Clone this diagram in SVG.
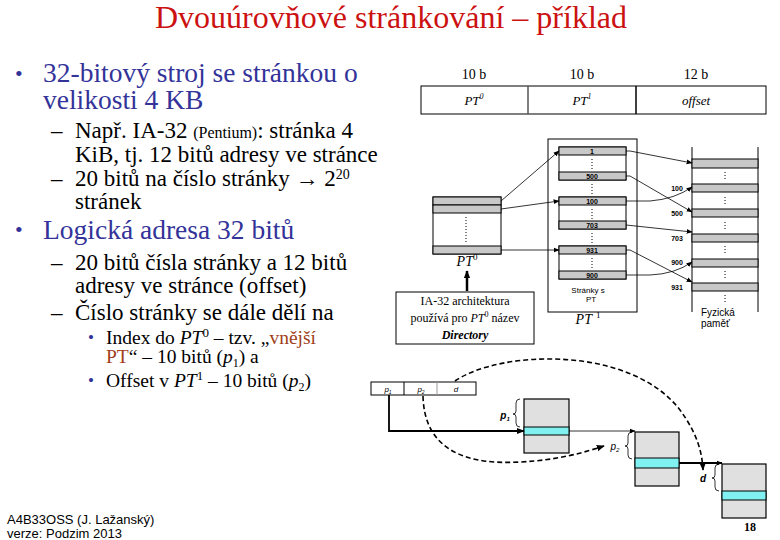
<svg xmlns="http://www.w3.org/2000/svg" width="780" height="540" viewBox="0 0 780 540">
<style>
.ser{font-family:"Liberation Serif","Times New Roman",serif}
.san{font-family:"Liberation Sans",Arial,sans-serif}
.blue{fill:#333399}
.ln{stroke:#000;fill:none}
.g{fill:#c8c8c8;stroke:#000;stroke-width:1}
.w{fill:#fff;stroke:#000;stroke-width:1}
.num{font-family:"Liberation Sans",Arial,sans-serif;font-size:7px;font-weight:bold;text-anchor:middle}
.dot{stroke:#000;stroke-width:1;stroke-dasharray:1 2}
.lg{fill:#e0e0e0;stroke:#000;stroke-width:1.2}
.cy{fill:#80f0f0;stroke:#000;stroke-width:1}
</style>
<defs>
<marker id="ah" viewBox="0 0 10 10" refX="9" refY="5" markerWidth="6" markerHeight="6" orient="auto" markerUnits="userSpaceOnUse"><path d="M0,1 L10,5 L0,9 z" fill="#000"/></marker>
<marker id="ab" viewBox="0 0 10 10" refX="9" refY="5" markerWidth="8" markerHeight="8" orient="auto" markerUnits="userSpaceOnUse"><path d="M0,1 L10,5 L0,9 z" fill="#000"/></marker>
</defs>
<rect width="780" height="540" fill="#fff"/>

<!-- Title -->
<text class="ser" x="391" y="28" font-size="31" fill="#cc1111" text-anchor="middle" textLength="472" lengthAdjust="spacingAndGlyphs">Dvouúrovňové stránkování – příklad</text>

<!-- Left text -->
<g id="text-left" class="ser">
<text x="15" y="81" font-size="22" class="blue">•</text>
<text x="43" y="82" font-size="27.5" class="blue">32-bitový stroj se stránkou o</text>
<text x="43" y="109" font-size="27.5" class="blue">velikosti 4 KB</text>
<text x="51" y="138" font-size="23">–</text>
<text x="75" y="138" font-size="23">Např. IA-32 <tspan font-size="16">(Pentium)</tspan>: stránka 4</text>
<text x="75" y="162" font-size="23">KiB, tj. 12 bitů adresy ve stránce</text>
<text x="51" y="186" font-size="23">–</text>
<text x="75" y="186" font-size="23">20 bitů na číslo stránky → 2<tspan font-size="14" dy="-7">20</tspan></text>
<text x="75" y="209" font-size="23">stránek</text>
<text x="15" y="237" font-size="22" class="blue">•</text>
<text x="43" y="239" font-size="27.5" class="blue">Logická adresa 32 bitů</text>
<text x="51" y="270" font-size="23">–</text>
<text x="75" y="270" font-size="23">20 bitů čísla stránky a 12 bitů</text>
<text x="75" y="293" font-size="23">adresy ve stránce (offset)</text>
<text x="51" y="320" font-size="23">–</text>
<text x="75" y="320" font-size="23">Číslo stránky se dále dělí na</text>
<text x="88" y="343" font-size="17" class="blue">•</text>
<text x="106" y="344" font-size="19.5">Index do <tspan font-style="italic">PT</tspan><tspan font-size="13" dy="-7">0</tspan><tspan dy="7"> – tzv. „</tspan><tspan fill="#a0401a">vnější</tspan></text>
<text x="106" y="363" font-size="19.5"><tspan fill="#a0401a">PT</tspan>“ – 10 bitů (<tspan font-style="italic">p</tspan><tspan font-size="12" dy="4">1</tspan><tspan dy="-4">) a</tspan></text>
<text x="88" y="386" font-size="17" class="blue">•</text>
<text x="106" y="387" font-size="19.5">Offset v  <tspan font-style="italic">PT</tspan><tspan font-size="13" dy="-7">1</tspan><tspan dy="7"> – 10 bitů (</tspan><tspan font-style="italic">p</tspan><tspan font-size="12" dy="4">2</tspan><tspan dy="-4">)</tspan></text>
</g>

<!-- Address register -->
<g id="address" class="ser">
<text x="474" y="79" font-size="14" text-anchor="middle">10 b</text>
<text x="582" y="79" font-size="14" text-anchor="middle">10 b</text>
<text x="696" y="79" font-size="14" text-anchor="middle">12 b</text>
<rect x="421" y="86" width="345" height="28" fill="#fff" stroke="#000"/>
<line x1="528" y1="86" x2="528" y2="114" stroke="#555" stroke-width="1.5"/>
<line x1="636" y1="86" x2="636" y2="114" stroke="#000" stroke-width="1.5"/>
<text x="474" y="105" font-size="13" font-style="italic" text-anchor="middle">PT<tspan font-size="8" dy="-6">0</tspan></text>
<text x="582" y="105" font-size="13" font-style="italic" text-anchor="middle">PT<tspan font-size="8" dy="-6">1</tspan></text>
<text x="696" y="105" font-size="13" font-style="italic" text-anchor="middle">offset</text>
</g>

<!-- PT0 -->
<g id="pt0">
<rect class="w" x="433" y="197" width="68" height="57"/>
<rect class="g" x="433" y="197" width="68" height="8"/>
<rect class="g" x="433" y="205" width="68" height="8"/>
<rect class="g" x="433" y="246" width="68" height="8"/>
<line class="dot" x1="466" y1="217" x2="466" y2="242"/>
<text class="ser" x="467" y="266" font-size="14" font-style="italic" text-anchor="middle">PT<tspan font-size="9" dy="-6" font-style="normal">0</tspan></text>
</g>

<!-- IA-32 note -->
<g id="note">
<rect x="396" y="292" width="138" height="52" fill="#fff" stroke="#000"/>
<text class="ser" x="465" y="305" font-size="12" text-anchor="middle">IA-32 architektura</text>
<text class="ser" x="465" y="322" font-size="12" text-anchor="middle">používá pro <tspan font-style="italic">PT</tspan><tspan font-size="8" dy="-5">0</tspan><tspan dy="5"> název</tspan></text>
<text class="ser" x="465" y="339" font-size="12" font-weight="bold" font-style="italic" text-anchor="middle">Directory</text>
</g>

<!-- PT1 -->
<g id="pt1">
<rect x="548" y="139" width="89" height="173" fill="#fff" stroke="#000"/>
<rect class="w" x="559" y="147" width="67" height="33"/>
<rect class="g" x="559" y="147" width="67" height="8"/>
<rect class="g" x="559" y="172" width="67" height="8"/>
<rect class="w" x="559" y="197" width="67" height="32"/>
<rect class="g" x="559" y="197" width="67" height="8"/>
<rect class="g" x="559" y="221" width="67" height="8"/>
<rect class="w" x="559" y="246" width="67" height="33"/>
<rect class="g" x="559" y="246" width="67" height="8"/>
<rect class="g" x="559" y="271" width="67" height="8"/>
<text class="num" x="592" y="154">1</text>
<text class="num" x="592" y="179">500</text>
<text class="num" x="592" y="204">100</text>
<text class="num" x="592" y="228">703</text>
<text class="num" x="592" y="253">931</text>
<text class="num" x="592" y="278">900</text>
<line class="dot" x1="592" y1="159" x2="592" y2="169"/>
<line class="dot" x1="592" y1="184" x2="592" y2="194"/>
<line class="dot" x1="592" y1="209" x2="592" y2="219"/>
<line class="dot" x1="592" y1="233" x2="592" y2="243"/>
<line class="dot" x1="592" y1="258" x2="592" y2="268"/>
<text class="san" x="588" y="293" font-size="8" text-anchor="middle">Stránky s</text>
<text class="san" x="591" y="302" font-size="8" text-anchor="middle">PT</text>
<text class="ser" x="588" y="324" font-size="14" font-style="italic" text-anchor="middle">PT<tspan font-size="9" dx="4" dy="-6" font-style="normal">1</tspan></text>
</g>

<!-- Physical memory -->
<g id="memory">
<line class="ln" x1="692" y1="147" x2="692" y2="312"/>
<line class="ln" x1="758" y1="147" x2="758" y2="312"/>
<rect class="g" x="692" y="159" width="66" height="9"/>
<rect class="g" x="692" y="184" width="66" height="8"/>
<rect class="g" x="692" y="209" width="66" height="8"/>
<rect class="g" x="692" y="234" width="66" height="8"/>
<rect class="g" x="692" y="259" width="66" height="8"/>
<rect class="g" x="692" y="283" width="66" height="8"/>
<line class="dot" x1="725" y1="172" x2="725" y2="181"/>
<line class="dot" x1="725" y1="197" x2="725" y2="206"/>
<line class="dot" x1="725" y1="222" x2="725" y2="231"/>
<line class="dot" x1="725" y1="246" x2="725" y2="255"/>
<line class="dot" x1="725" y1="271" x2="725" y2="280"/>
<line class="dot" x1="725" y1="295" x2="725" y2="304"/>
<text class="num" x="677" y="191">100</text>
<text class="num" x="677" y="216">500</text>
<text class="num" x="677" y="241">703</text>
<text class="num" x="677" y="265">900</text>
<text class="num" x="677" y="290">931</text>
<text class="san" x="701" y="316" font-size="10">Fyzická</text>
<text class="san" x="701" y="327" font-size="10">paměť</text>
</g>

<!-- Paging hardware diagram -->
<g id="register-bottom">
<rect x="371" y="382" width="105" height="13" fill="#fff" stroke="#000"/>
<line x1="404" y1="382" x2="404" y2="395" stroke="#000"/>
<line x1="437" y1="382" x2="437" y2="395" stroke="#999"/>
<text class="san" x="388" y="392" font-size="8" font-style="italic" text-anchor="middle">p<tspan font-size="5" dy="2">1</tspan></text>
<text class="san" x="421" y="392" font-size="8" font-style="italic" text-anchor="middle">p<tspan font-size="5" dy="2">2</tspan></text>
<text class="san" x="456" y="392" font-size="8" font-style="italic" text-anchor="middle">d</text>
</g>
<g id="table1">
<rect class="lg" x="524" y="399" width="45" height="54"/>
<rect class="cy" x="524" y="427" width="45" height="8"/>
<path class="ln" d="M520,399 q-4,0 -4,4 v8 q0,3 -3,3 q3,0 3,3 v6 q0,4 4,4" stroke-width="0.8"/>
<text class="san" x="505" y="419" font-size="10" font-weight="bold" font-style="italic" text-anchor="middle">p<tspan font-size="6" dy="2">1</tspan></text>
</g>
<g id="table2">
<rect class="lg" x="635" y="432" width="44" height="54"/>
<rect class="cy" x="635" y="458" width="44" height="10"/>
<path class="ln" d="M632,432 q-4,0 -4,4 v7 q0,3 -3,3 q3,0 3,3 v6 q0,4 4,4" stroke-width="0.8"/>
<text class="san" x="615" y="450" font-size="10" font-style="italic" text-anchor="middle">p<tspan font-size="6" dy="2">2</tspan></text>
</g>
<g id="table3">
<rect class="lg" x="722" y="464" width="44" height="54"/>
<rect class="cy" x="722" y="491" width="44" height="9"/>
<path class="ln" d="M719,464 q-4,0 -4,4 v7 q0,3 -3,3 q3,0 3,3 v6 q0,4 4,4" stroke-width="0.8"/>
<text class="san" x="703" y="482" font-size="10" font-weight="bold" font-style="italic" text-anchor="middle">d</text>
</g>
<text class="ser" x="750" y="531" font-size="12" font-weight="bold" text-anchor="middle">18</text>

<!-- Footer -->
<g id="footer" class="san" font-size="13">
<text x="7" y="524">A4B33OSS (J. Lažanský)</text>
<text x="7" y="538">verze: Podzim 2013</text>
</g>

<!-- Connectors -->
<g id="connectors" fill="none" stroke="#000">
<path d="M501,201 L559,151" stroke-width="0.8" marker-end="url(#ah)"/>
<path d="M501,209 L559,201" stroke-width="0.8" marker-end="url(#ah)"/>
<path d="M501,250 L559,250" stroke-width="0.8" marker-end="url(#ah)"/>
<path d="M626,151 L630,151 L692,163" stroke-width="0.8" marker-end="url(#ah)"/>
<path d="M626,176 L630,176 L692,212" stroke-width="0.8" marker-end="url(#ah)"/>
<path d="M626,201 L650,201 Q675,199 692,187" stroke-width="0.8" marker-end="url(#ah)"/>
<path d="M626,225 L692,232" stroke-width="0.8" marker-end="url(#ah)"/>
<path d="M626,250 L630,250 L692,282" stroke-width="0.8" marker-end="url(#ah)"/>
<path d="M626,275 L650,275 Q675,274 692,262" stroke-width="0.8" marker-end="url(#ah)"/>
<path d="M467,291 L467,271" stroke-width="2.5" marker-end="url(#ab)"/>
<path d="M389,395 L389,431 L524,431" stroke-width="1.8" marker-end="url(#ab)"/>
<path d="M569,431 L635,431" stroke-width="0.8" marker-end="url(#ah)"/>
<path d="M679,463 L722,463" stroke-width="1.8" marker-end="url(#ah)"/>
<path d="M423,396 C424,440 452,466 520,462 C560,460 585,452 604,446" stroke-width="1.6" stroke-dasharray="5 3" marker-end="url(#ab)"/>
<path d="M455,381 C500,350 630,345 680,410 C696,432 702,450 703,470" stroke-width="1.6" stroke-dasharray="5 3" marker-end="url(#ab)"/>
</g>
</svg>
